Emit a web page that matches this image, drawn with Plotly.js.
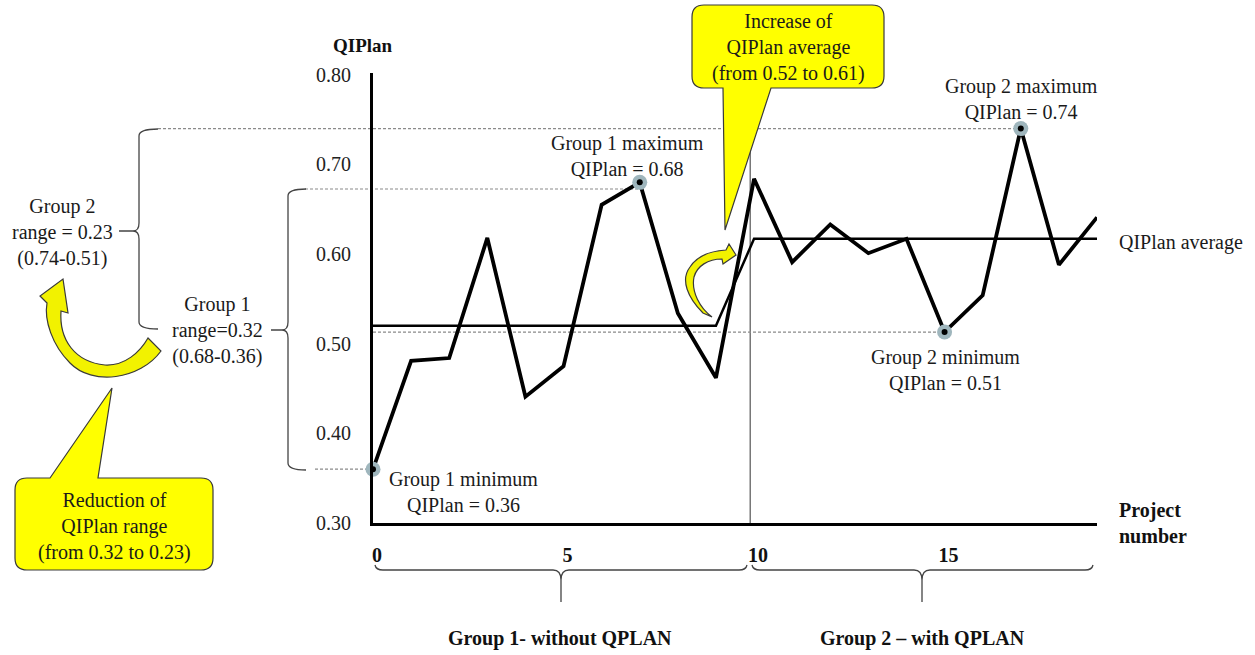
<!DOCTYPE html>
<html>
<head>
<meta charset="utf-8">
<script src="https://cdn.plot.ly/plotly-3.0.1.min.js"></script>
<style>html,body{margin:0;padding:0;background:#fff;}#chart{width:1255px;height:655px;}</style>
</head>
<body>
<div id="chart"></div>
<script>
// ---- data ----
const projectNumbers = [0,1,2,3,4,5,6,7,8,9,10,11,12,13,14,15,16,17,18,19];
const qiplan = [0.36,0.481,0.484,0.618,0.441,0.475,0.655,0.68,0.534,0.462,0.684,0.591,0.633,0.601,0.617,0.513,0.554,0.74,0.588,0.641];
const averageX = [0,9,10,19];
const averageY = [0.52,0.52,0.617,0.617];
const highlightIdx = [0,7,15,17];
const yTickVals = [0.30,0.40,0.50,0.60,0.70,0.80];
const yTickText = ["0.30","0.40","0.50","0.60","0.70","0.80"];
const xTickVals = [0,5,10,15];
const xTickText = ["0","5","10","15"];

// ---- layout helpers (pixel -> paper) ----
const ML=373, MR=158, MT=73, MB=132, PW=1255-ML-MR, PH=655-MT-MB;
const XR=[0,19], YR=[0.30,0.802];
const px = x => (x-ML)/PW;
const py = y => (MT+PH-y)/PH;
const dx = d => (d-XR[0])/(XR[1]-XR[0]);
const dy = v => (v-YR[0])/(YR[1]-YR[0]);
const P = (x,y) => px(x).toFixed(5)+','+py(y).toFixed(5);
function path(cmds){
  return cmds.map(c => {
    if (c[0]==='Z') return 'Z';
    const pts=[];
    for(let i=1;i<c.length;i+=2) pts.push(P(c[i],c[i+1]));
    return c[0]+' '+pts.join(' ');
  }).join(' ');
}

const serif = 'Liberation Serif, Times New Roman, serif';
const txt = '#1a1a1a';

const hx = highlightIdx.map(i=>projectNumbers[i]);
const hy = highlightIdx.map(i=>qiplan[i]);

const traces = [
  {x: averageX, y: averageY, mode:'lines', line:{color:'#000', width:2.5}, hoverinfo:'skip'},
  {x: projectNumbers, y: qiplan, mode:'lines', line:{color:'#000', width:3.8}, hoverinfo:'skip'},
  {x: hx, y: hy, mode:'markers', marker:{size:15, color:'#9fb6bd'}, cliponaxis:false, hoverinfo:'skip'},
  {x: hx, y: hy, mode:'markers', marker:{size:6, color:'#000'}, cliponaxis:false, hoverinfo:'skip'}
];

const dashLine = {color:'#8a8a8a', width:1.2, dash:'3px,2px'};
const braceLine = {color:'#444', width:1.3};
const yellowLine = {color:'#3a3a3a', width:1.2};

const shapes = [
  {type:'line', xref:'paper', yref:'paper', x0:dx(9.9), x1:dx(9.9), y0:0, y1:dy(0.80), line:{color:'#777', width:1.5}, layer:'below'},
  {type:'line', xref:'paper', yref:'paper', x0:px(158), x1:dx(projectNumbers[17]), y0:dy(qiplan[17]), y1:dy(qiplan[17]), line:dashLine, layer:'below'},
  {type:'line', xref:'paper', yref:'paper', x0:px(305), x1:dx(projectNumbers[7]), y0:py(189), y1:py(189), line:dashLine, layer:'below'},
  {type:'line', xref:'paper', yref:'paper', x0:0, x1:dx(projectNumbers[15]), y0:dy(qiplan[15]), y1:dy(qiplan[15]), line:dashLine, layer:'below'},
  {type:'line', xref:'paper', yref:'paper', x0:px(315), x1:dx(projectNumbers[0]), y0:dy(qiplan[0]), y1:dy(qiplan[0]), line:dashLine, layer:'below'},
  {type:'path', xref:'paper', yref:'paper', line:braceLine, path: path([
    ['M',158,129],['Q',139,129,139,136],['L',139,223],['Q',139,231,133,231],['L',119,231],['L',133,231],
    ['Q',139,231,139,239],['L',139,322],['Q',139,329,158,329]])},
  {type:'path', xref:'paper', yref:'paper', line:braceLine, path: path([
    ['M',306,189],['Q',288,189,288,196],['L',288,322],['Q',288,330,282,330],['L',271,330],['L',282,330],
    ['Q',288,330,288,338],['L',288,463],['Q',288,470,306,470]])},
  {type:'path', xref:'paper', yref:'paper', line:braceLine, path: path([
    ['M',375,565],['Q',376,570,383,570],['L',553,570],['Q',561,570,561,580],['L',561,602],['L',561,580],
    ['Q',561,570,569,570],['L',739,570],['Q',746,570,747,565]])},
  {type:'path', xref:'paper', yref:'paper', line:braceLine, path: path([
    ['M',752,565],['Q',753,570,760,570],['L',914,570],['Q',922,570,922,580],['L',922,602],['L',922,580],
    ['Q',922,570,930,570],['L',1085,570],['Q',1092,570,1093,565]])},
  {type:'path', xref:'paper', yref:'paper', fillcolor:'#ffff00', line:yellowLine, layer:'above', path: path([
    ['M',704,5],['L',872,5],['Q',884,5,884,17],['L',884,76],['Q',884,88,872,88],['L',771,88],['L',725,230],['L',723,88],
    ['L',704,88],['Q',692,88,692,76],['L',692,17],['Q',692,5,704,5],['Z']])},
  {type:'path', xref:'paper', yref:'paper', fillcolor:'#ffff00', line:yellowLine, layer:'above', path: path([
    ['M',27,478],['L',50,478],['L',112,388],['L',98,478],['L',201,478],['Q',213,478,213,490],['L',213,558],
    ['Q',213,570,201,570],['L',27,570],['Q',15,570,15,558],['L',15,490],['Q',15,478,27,478],['Z']])},
  {type:'path', xref:'paper', yref:'paper', fillcolor:'#f2f200', line:yellowLine, layer:'above', path: path([
    ['M',148,338],['L',161,351],['C',140,380,92,386,70,363],['C',52,345,44,320,47,303],['L',40,296],['L',63,279],
    ['L',68,313],['L',61,311],['C',59,340,75,362,105,365],['C',125,366,140,352,148,338],['Z']])},
  {type:'path', xref:'paper', yref:'paper', fillcolor:'#f2f200', line:yellowLine, layer:'above', path: path([
    ['M',703,313],['C',688,298,680,280,690,267],['C',697,256,710,251,726,250],['L',729,244],['L',736,255],
    ['L',723,264],['L',722,259],['C',708,259,697,266,694,277],['C',691,292,700,308,712,317],['Z']])}
];

function ann(text, x, y, opts){
  return Object.assign({text:text, xref:'paper', yref:'paper', x:px(x), y:py(y), showarrow:false,
    xanchor:'center', yanchor:'middle', align:'center',
    font:{family:serif, size:20, color:txt}}, opts||{});
}
const bold = {family:serif, size:20, color:'#111', weight:'bold'};

const annotations = [
  ann('<b>QIPlan</b>', 363, 45, {font:{family:serif, size:19, color:'#111', weight:'bold'}}),
  ann('<b>Project<br>number</b>', 1117, 523, {xanchor:'left', align:'left', font:bold}),
  ann('QIPlan average', 1117, 242, {xanchor:'left', align:'left'}),
  ann('Group 1 maximum<br>QIPlan = 0.68', 627, 156),
  ann('Group 1 minimum<br>QIPlan = 0.36', 463, 492),
  ann('Group 2 maximum<br>QIPlan = 0.74', 1021, 99),
  ann('Group 2 minimum<br>QIPlan = 0.51', 945, 370),
  ann('Group 2<br>range = 0.23<br>(0.74-0.51)', 62, 232),
  ann('Group 1<br>range=0.32<br>(0.68-0.36)', 217, 330),
  ann('Reduction of<br>QIPlan range<br>(from 0.32 to 0.23)', 114, 526),
  ann('Increase of<br>QIPlan average<br>(from 0.52 to 0.61)', 788, 48),
  ann('<b>Group 1- without QPLAN</b>', 560, 638, {font:bold}),
  ann('<b>Group 2 – with QPLAN</b>', 922, 638, {font:bold})
];

const layout = {
  width:1255, height:655,
  margin:{l:ML, r:MR, t:MT, b:MB, pad:0},
  paper_bgcolor:'#fff', plot_bgcolor:'#fff',
  showlegend:false,
  xaxis:{range:XR, showgrid:false, zeroline:false, showline:true, linecolor:'#000', linewidth:3,
    tickvals:xTickVals, ticktext:xTickText, ticks:'', ticklabelstandoff:12, ticklabelshift:4,
    tickfont:{family:serif, size:20, color:'#111', weight:'bold'}, fixedrange:true},
  yaxis:{range:YR, showgrid:false, zeroline:false, showline:true, linecolor:'#000', linewidth:3,
    tickvals:yTickVals, ticktext:yTickText, ticks:'', ticklabelstandoff:15,
    tickfont:{family:serif, size:20, color:'#222'}, fixedrange:true},
  shapes:shapes,
  annotations:annotations
};

Plotly.newPlot('chart', traces, layout, {displayModeBar:false, staticPlot:true});
</script>
</body>
</html>
